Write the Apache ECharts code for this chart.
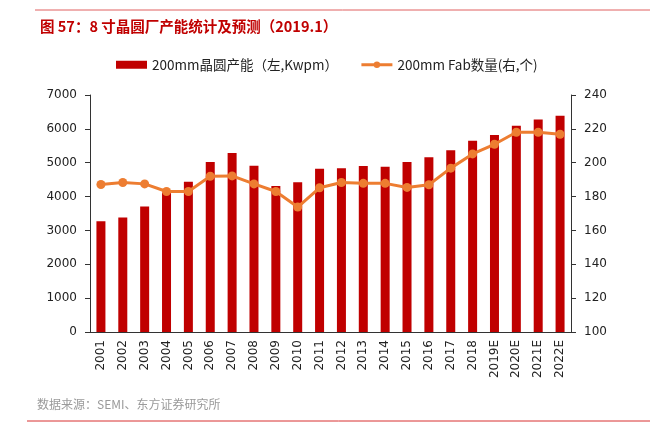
<!DOCTYPE html>
<html>
<head>
<meta charset="utf-8">
<script src="https://cdn.jsdelivr.net/npm/echarts@6/dist/echarts.min.js"></script>
<style>html,body{margin:0;padding:0;background:#fff}#c{width:650px;height:425px}</style>
</head>
<body>
<div id="c"></div>
<script>
var categories = ['2001','2002','2003','2004','2005','2006','2007','2008','2009','2010','2011','2012','2013','2014','2015','2016','2017','2018','2019E','2020E','2021E','2022E'];
var capacity = [3270,3380,3710,4120,4440,5020,5290,4910,4310,4420,4820,4840,4900,4880,5020,5160,5370,5650,5820,6090,6280,6390];
var fabCount = [187.1,188.3,187.5,183,183,192,192.2,187.5,183,173.8,185.2,188.3,187.8,187.8,185.4,187,196.8,205.2,210.9,218,218,216.8];
var leftTicks = [0,1000,2000,3000,4000,5000,6000,7000];
var rightTicks = [100,120,140,160,180,200,220,240];

var chart = echarts.init(document.getElementById('c'));
var numFont = 'DejaVu Sans, Verdana, sans-serif';
var cjk = '"Noto Sans CJK SC", "DejaVu Sans", sans-serif';
chart.setOption({
  animation: false,
  textStyle: {fontFamily: cjk},
  title: {
    text: '图 57：8 寸晶圆厂产能统计及预测（2019.1）',
    left: 35, top: 14,
    textStyle: {color: '#c00000', fontSize: 14.5, fontWeight: 'bold', fontFamily: cjk}
  },
  graphic: [
    {type: 'line', shape: {x1: 35, y1: 10, x2: 650, y2: 10}, style: {stroke: '#e06060', lineWidth: 1}},
    {type: 'line', shape: {x1: 27, y1: 421, x2: 650, y2: 421}, style: {stroke: '#d83030', lineWidth: 1}},
    {type: 'text', left: 37, top: 398, style: {text: '数据来源：SEMI、东方证券研究所', fill: '#9a9a9a', fontSize: 12, fontFamily: cjk}}
  ],
  legend: {
    top: 53, left: 111, itemGap: 22,
    textStyle: {fontSize: 13.5, color: '#222', fontFamily: cjk},
    data: [
      {name: '200mm晶圆产能（左,Kwpm）', icon: 'rect', itemStyle: {color: '#c00000'}},
      {name: '200mm Fab数量(右,个)', lineStyle: {width: 3}}
    ],
    itemWidth: 31, itemHeight: 8
  },
  grid: {left: 90, right: 79, top: 95, bottom: 93, containLabel: false},
  xAxis: {
    type: 'category', data: categories,
    axisLine: {lineStyle: {color: '#333', width: 1}},
    axisTick: {show: false},
    axisLabel: {rotate: 90, color: '#222', fontSize: 12, fontFamily: numFont, margin: 8}
  },
  yAxis: [
    {type: 'value', min: 0, max: 7000, interval: 1000,
     axisLine: {show: true, lineStyle: {color: '#333'}},
     axisTick: {show: true, inside: false, length: 5, lineStyle: {color: '#333'}},
     splitLine: {show: false},
     axisLabel: {color: '#222', fontSize: 12, fontFamily: numFont, margin: 13,
                 formatter: function (v) { return String(v); }}},
    {type: 'value', min: 100, max: 240, interval: 20,
     axisLine: {show: true, lineStyle: {color: '#333'}},
     axisTick: {show: true, length: 5, lineStyle: {color: '#333'}},
     splitLine: {show: false},
     axisLabel: {color: '#222', fontSize: 12, fontFamily: numFont, margin: 13,
                 formatter: function (v) { return String(v); }}}
  ],
  series: [
    {name: '200mm晶圆产能（左,Kwpm）', type: 'bar', data: capacity, barWidth: 9,
     itemStyle: {color: '#c00000'}},
    {name: '200mm Fab数量(右,个)', type: 'line', yAxisIndex: 1, data: fabCount,
     symbol: 'circle', symbolSize: 9,
     lineStyle: {color: '#ed7d31', width: 3}, itemStyle: {color: '#ed7d31'}}
  ]
});
</script>
</body>
</html>
